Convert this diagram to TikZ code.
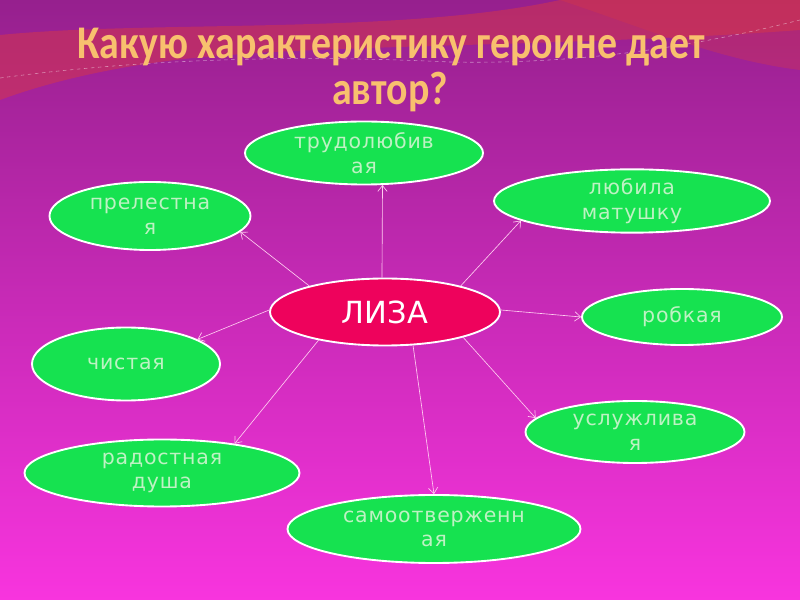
\documentclass[tikz,border=0pt]{standalone}
\usepackage{fontspec}
\usetikzlibrary{shapes.geometric,arrows.meta}
\newfontfamily\titlefont{Carlito}
\newfontfamily\dvs[LetterSpace=4]{DejaVu Sans}
\newfontfamily\dvl{DejaVu Sans}
\definecolor{bgtop}{RGB}{150,32,142}
\definecolor{bgmid}{RGB}{212,32,186}
\definecolor{bgbot}{RGB}{248,52,222}
\definecolor{wave}{RGB}{215,55,70}
\definecolor{leaf}{RGB}{22,226,80}
\definecolor{leaftext}{RGB}{190,242,195}
\definecolor{lizafill}{RGB}{238,2,92}
\definecolor{titlecol}{RGB}{248,192,110}
\definecolor{arrcol}{RGB}{255,205,240}
\tikzset{
  ell/.style 2 args={ellipse, inner sep=0pt, minimum width=#1*0.03cm, minimum height=#2*0.03cm,
    draw=white, line width=1.6pt},
  leafnode/.style={fill=leaf, text=leaftext, align=center,
    font=\dvs\fontsize{17.5}{21}\selectfont},
  lizanode/.style={fill=lizafill, text=white, font=\dvl\fontsize{26}{30}\selectfont},
  arr/.style={draw=arrcol, line width=0.55pt, -{Straight Barb[length=5pt,width=8pt]}},
  ttl/.style={font=\titlefont\bfseries\fontsize{40}{46}\selectfont, text=titlecol}
}
\begin{document}
\begin{tikzpicture}[x=0.03cm,y=-0.03cm]
\useasboundingbox (0,0) rectangle (800,600);
% background
\shade[top color=bgtop, middle color=bgmid, bottom color=bgbot] (0,0) rectangle (800,600);
\fill[wave, opacity=0.5] (0,35) .. controls (150,20) and (400,35) .. (560,0) -- (800,0) -- (800,30)
  .. controls (600,45) and (350,45) .. (230,55) .. controls (120,62) and (40,85) .. (0,100) -- cycle;
\fill[wave, opacity=0.35] (560,0) .. controls (650,30) and (720,60) .. (800,70) -- (800,0) -- cycle;
\draw[white, opacity=0.45, dashed, line width=0.5pt] (0,78) .. controls (150,58) and (300,55) .. (450,62)
  .. controls (600,65) and (720,40) .. (800,20);
% title
\node[ttl] (t1) at (391,47) {\scalebox{0.85}[1]{Какую характеристику героине дает}};
\node[ttl] (t2) at (390,92) {\scalebox{0.85}[1]{автор?}};
% nodes
\node[ell={230}{67}, lizanode] (liza) at (385,312) {ЛИЗА};
\node[ell={238}{63}, leafnode] (trud) at (364,153) {трудолюбив\\ая};
\node[ell={201}{68}, leafnode] (prel) at (150,216) {прелестна\\я};
\node[ell={276}{58}, leafnode] (lyub) at (632,201) {любила\\матушку};
\node[ell={200}{56}, leafnode] (robk) at (682,317) {робкая};
\node[ell={188}{73}, leafnode] (chis) at (126,364) {чистая};
\node[ell={219}{62}, leafnode] (usl) at (635,432) {услужлива\\я};
\node[ell={275}{67}, leafnode] (rad) at (162,473) {радостная\\душа};
\node[ell={293}{68}, leafnode] (sam) at (434,529) {самоотверженн\\ая};
% connectors
\draw[arr] (liza.95) -- (trud.-60);
\draw[arr] (liza.161) -- (prel.-10);
\draw[arr] (liza.19) -- (lyub.190);
\draw[arr] (liza.1) -- (robk.180);
\draw[arr] (liza.179) -- (chis.19);
\draw[arr] (liza.-157) -- (rad.22);
\draw[arr] (liza.-50) -- (sam.90);
\draw[arr] (liza.-18) -- (usl.172);
\end{tikzpicture}
\end{document}
